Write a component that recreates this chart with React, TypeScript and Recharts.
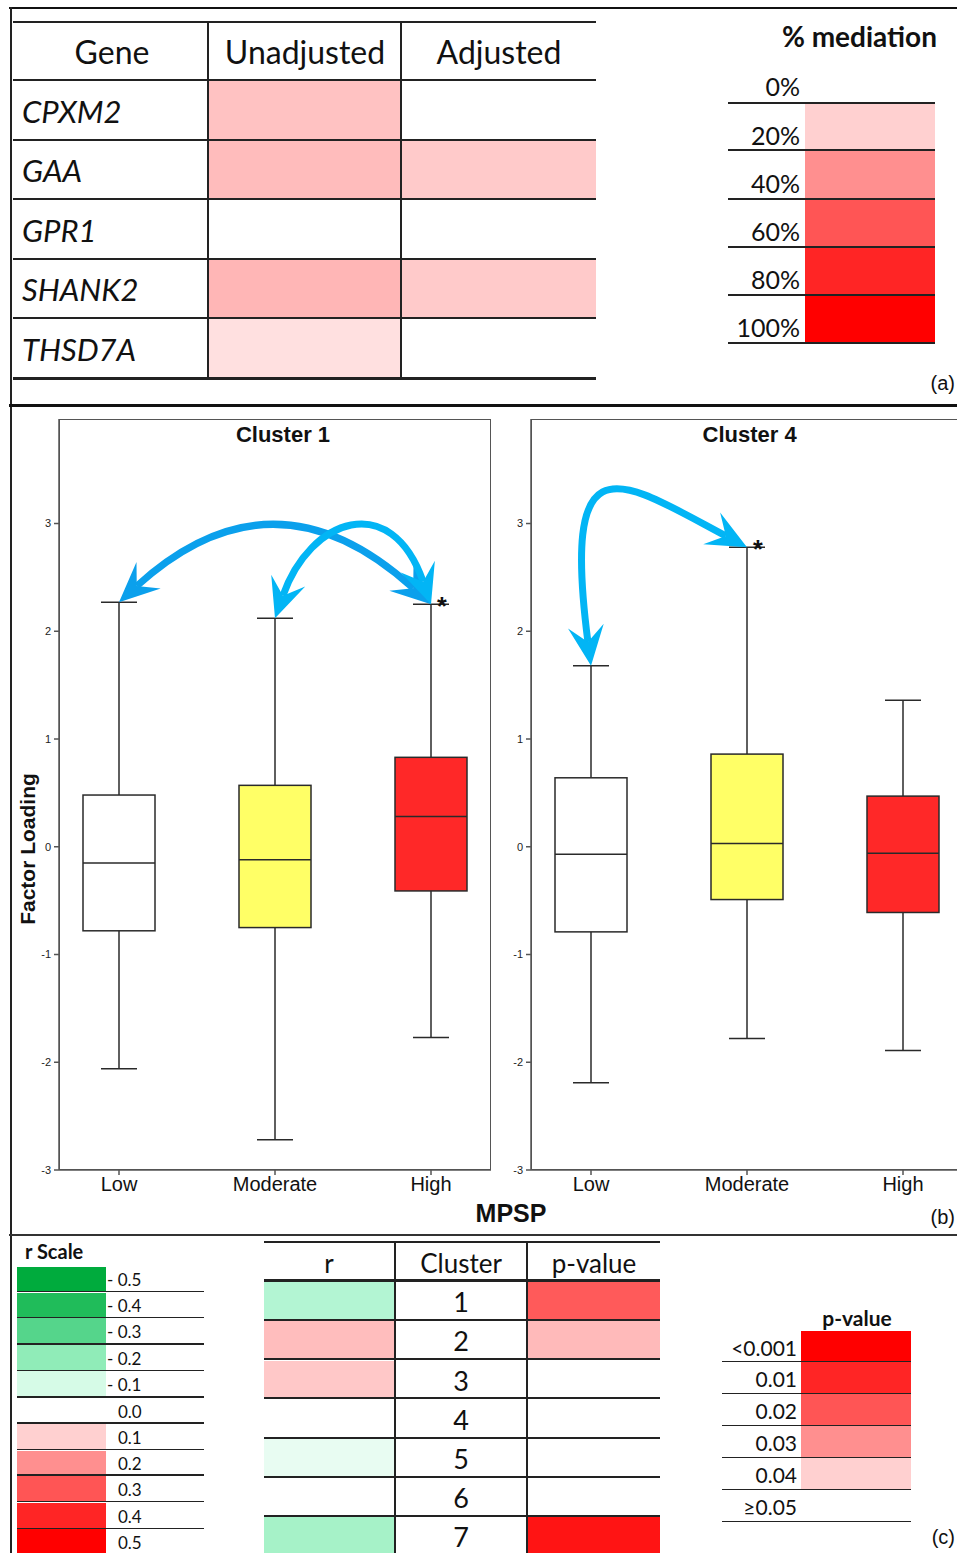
import React from 'react';
import { BarChart, Bar, XAxis, YAxis, ReferenceLine } from 'recharts';

// ---------- panel (a): mediation table ----------
const genes = ['CPXM2', 'GAA', 'GPR1', 'SHANK2', 'THSD7A'];
const unadjustedColors = ['#FFC2C2', '#FFBCBC', '#FFFFFF', '#FFB6B6', '#FFE0E0'];
const adjustedColors = ['#FFFFFF', '#FFCACA', '#FFFFFF', '#FFCACA', '#FFFFFF'];
const mediationLabels = ['0%', '20%', '40%', '60%', '80%', '100%'];
const mediationColors = ['', '#FFD0D0', '#FF8F8F', '#FF5555', '#FF2525', '#FF0000'];

// ---------- panel (b): box plots ----------
const levels = ['Low', 'Moderate', 'High'];
const levelFills = ['#FFFFFF', '#FFFF66', '#FF2828'];
const yTicks = [-3, -2, -1, 0, 1, 2, 3];

const c1Min = [-2.06, -2.72, -1.77];
const c1Q1 = [-0.78, -0.75, -0.41];
const c1Median = [-0.15, -0.12, 0.28];
const c1Q3 = [0.48, 0.57, 0.83];
const c1Max = [2.27, 2.12, 2.25];
const c1Sig = [false, false, true];

const c4Min = [-2.19, -1.78, -1.89];
const c4Q1 = [-0.79, -0.49, -0.61];
const c4Median = [-0.07, 0.03, -0.06];
const c4Q3 = [0.64, 0.86, 0.47];
const c4Max = [1.68, 2.78, 1.36];
const c4Sig = [false, true, false];

// pairwise comparisons (from, to)
const c1Pairs = [['High', 'Low'], ['High', 'Moderate']];
const c4Pairs = [['Low', 'Moderate']];

// ---------- panel (c): correlation table ----------
const rScaleLabels = ['- 0.5', '- 0.4', '- 0.3', '- 0.2', '- 0.1', '0.0', '0.1', '0.2', '0.3', '0.4', '0.5'];
const rScaleColors = ['#00AB3D', '#20BC5A', '#55D58B', '#90ECB8', '#D6FBE7', '', '#FFD0D0', '#FF8F8F', '#FF5555', '#FF2525', '#FF0000'];
const clusters = ['1', '2', '3', '4', '5', '6', '7'];
const clusterRColors = ['#B3F5D3', '#FFBDBD', '#FFC8C8', '#FFFFFF', '#E8FCF2', '#FFFFFF', '#A6F2C8'];
const clusterPColors = ['#FF5A5A', '#FFBABA', '#FFFFFF', '#FFFFFF', '#FFFFFF', '#FFFFFF', '#FF1414'];
const pLabels = ['<0.001', '0.01', '0.02', '0.03', '0.04', '\u22650.05'];
const pColors = ['#FF0000', '#FF2525', '#FF5555', '#FF8F8F', '#FFD0D0', ''];

const CAL = 'Lato, "Open Sans", sans-serif';
const ARIAL = '"Liberation Sans", Arial, sans-serif';

type BoxRow = { level: string; min: number; q1: number; median: number; q3: number; max: number; sig: boolean; fill: string };

const makeRows = (mins: number[], q1s: number[], meds: number[], q3s: number[], maxs: number[], sigs: boolean[]): BoxRow[] =>
  levels.map((level, i) => ({ level, min: mins[i], q1: q1s[i], median: meds[i], q3: q3s[i], max: maxs[i], sig: sigs[i], fill: levelFills[i] }));

const cluster1 = makeRows(c1Min, c1Q1, c1Median, c1Q3, c1Max, c1Sig);
const cluster4 = makeRows(c4Min, c4Q1, c4Median, c4Q3, c4Max, c4Sig);

// small layout helpers
const Txt = ({ x, y, size, children, anchor = 'start', weight = 400, italic = false, family = CAL, color = '#111' }: any) => {
  const tx = anchor === 'middle' ? '-50%' : anchor === 'end' ? '-100%' : '0';
  return (
    <div style={{ position: 'absolute', left: x, top: y - size / 2, fontSize: size, lineHeight: `${size}px`, fontFamily: family, fontWeight: weight, fontStyle: italic ? 'italic' : 'normal', color, whiteSpace: 'nowrap', transform: `translateX(${tx})` }}>
      {children}
    </div>
  );
};
const HLine = ({ x1, x2, y, t = 2, color = '#222' }: any) => (
  <div style={{ position: 'absolute', left: x1, top: y - t / 2, width: x2 - x1, height: t, background: color }} />
);
const VLine = ({ x, y1, y2, t = 2, color = '#222' }: any) => (
  <div style={{ position: 'absolute', left: x - t / 2, top: y1, width: t, height: y2 - y1, background: color }} />
);
const Cell = ({ x, y, w, h, fill }: any) =>
  fill && fill !== '#FFFFFF' ? <div style={{ position: 'absolute', left: x, top: y, width: w, height: h, background: fill }} /> : null;

// box + whiskers drawn from the [min, max] range bar
const BoxShape = (props: any) => {
  const { x, y, width, height, payload } = props;
  if (!payload || typeof y !== 'number') return null;
  const top = Math.min(y, y + height);
  const h = Math.abs(height);
  const { min, q1, median, q3, max, fill, sig } = payload as BoxRow;
  const k = h / (max - min);
  const py = (v: number) => top + (max - v) * k;
  const cx = x + width / 2;
  const cap = width / 4;
  const s = '#2a2a2a';
  return (
    <g>
      <line x1={cx} x2={cx} y1={py(max)} y2={py(q3)} stroke={s} strokeWidth={1.5} />
      <line x1={cx} x2={cx} y1={py(q1)} y2={py(min)} stroke={s} strokeWidth={1.5} />
      <line x1={cx - cap} x2={cx + cap} y1={py(max)} y2={py(max)} stroke={s} strokeWidth={1.5} />
      <line x1={cx - cap} x2={cx + cap} y1={py(min)} y2={py(min)} stroke={s} strokeWidth={1.5} />
      <rect x={x} y={py(q3)} width={width} height={py(q1) - py(q3)} fill={fill} stroke={s} strokeWidth={1.5} />
      <line x1={x} x2={x + width} y1={py(median)} y2={py(median)} stroke={s} strokeWidth={1.5} />
      {sig && (
        <text x={cx + cap * 0.6} y={py(max) + 11} textAnchor="middle" fontSize={25} fontWeight={700} fontFamily={ARIAL} fill="#111">*</text>
      )}
    </g>
  );
};

// double-headed curved arrow between two whisker tops
const CurvedArrow = (props: any) => {
  const { x1, y1, x2, y2, bend, color } = props;
  if ([x1, y1, x2, y2].some((v) => typeof v !== 'number' || isNaN(v))) return null;
  const a = { x: x1 + bend[0], y: y1 + bend[1] };
  const b = { x: x2 + bend[2], y: y2 + bend[3] };
  const head = (tx: number, ty: number, fx: number, fy: number) => {
    const dx = tx - fx;
    const dy = ty - fy;
    const len = Math.hypot(dx, dy) || 1;
    const ux = dx / len;
    const uy = dy / len;
    const px = -uy;
    const pyy = ux;
    const L = 40, Wd = 18, N = 24;
    const bx = tx - ux * L;
    const by = ty - uy * L;
    return {
      pts: `${tx},${ty} ${bx + px * Wd},${by + pyy * Wd} ${tx - ux * N},${ty - uy * N} ${bx - px * Wd},${by - pyy * Wd}`,
      nx: tx - ux * N,
      ny: ty - uy * N,
    };
  };
  const h0 = head(x1, y1, a.x, a.y);
  const h1 = head(x2, y2, b.x, b.y);
  return (
    <g>
      <path d={`M${h0.nx},${h0.ny} C${a.x},${a.y} ${b.x},${b.y} ${h1.nx},${h1.ny}`} fill="none" stroke={color} strokeWidth={7} />
      <polygon points={h0.pts} fill={color} />
      <polygon points={h1.pts} fill={color} />
    </g>
  );
};

// curve control offsets (px) for each comparison arrow
const arrowBends: Record<string, number[]> = {
  'c1-High-Low': [-110, -100, 110, -100],
  'c1-High-Moderate': [-40, -115, 35, -100],
  'c4-Low-Moderate': [-30, -232, -126, -67],
};
const arrowColors: Record<string, string> = {
  'c1-High-Low': '#0BA0EC',
  'c1-High-Moderate': '#02B5F5',
  'c4-Low-Moderate': '#02B5F5',
};

const axisStroke = { stroke: '#555', strokeWidth: 1.5 };

const BoxPanel = ({ id, rows, pairs, left, title }: { id: string; rows: BoxRow[]; pairs: string[][]; left: number; title: string }) => {
  const maxOf = (lv: string) => rows.find((r) => r.level === lv)!.max;
  return (
    <div style={{ position: 'absolute', left, top: 400, width: 491, height: 810 }}>
      {/* plot frame */}
      <div style={{ position: 'absolute', left: 59, top: 19, width: 432, height: 751, border: '1.5px solid #555', boxSizing: 'border-box' }} />
      <div style={{ position: 'absolute', left: 0, top: 0 }}>
        <BarChart width={491} height={810} data={rows} margin={{ top: 19, right: 0, bottom: 0, left: 0 }}>
          <XAxis dataKey="level" interval={0} padding={{ left: -18, right: -18 }} height={40} tickSize={5} tickMargin={2}
            tick={{ fontSize: 20, fill: '#111', fontFamily: ARIAL }} axisLine={axisStroke} tickLine={axisStroke} />
          <YAxis type="number" domain={[-3, 3.97]} ticks={yTicks} interval={0} width={59} tickSize={5} tickMargin={3}
            tick={{ fontSize: 11, fill: '#222', fontFamily: ARIAL }} axisLine={axisStroke} tickLine={axisStroke} allowDataOverflow />
          <Bar dataKey={(d: BoxRow) => [d.min, d.max]} barSize={72} shape={<BoxShape />} isAnimationActive={false} />
          {pairs.map(([from, to]) => {
            const key = `${id}-${from}-${to}`;
            return (
              <ReferenceLine key={key} ifOverflow="visible"
                segment={[{ x: from, y: maxOf(from) }, { x: to, y: maxOf(to) }]}
                shape={(p: any) => <CurvedArrow {...p} bend={arrowBends[key]} color={arrowColors[key]} />} />
            );
          })}
        </BarChart>
      </div>
      <Txt x={left === 0 ? 283 : 278} y={35} size={22} weight={700} family={ARIAL} anchor="middle">{title}</Txt>
    </div>
  );
};

export default function App() {
  const rowTopA = (i: number) => 80 + i * 59.6;
  const medLines = [102.7, 150.3, 198.7, 246.7, 294.7, 343.3];
  const medCenters = [86, 135, 183, 231, 279, 327];
  const rTops = [1265.7, 1291.7, 1317.3, 1344, 1370.3, 1397, 1423, 1449.7, 1475, 1501.7, 1528.3, 1554];
  const cRowTop = (i: number) => 1280.7 + i * 39.2;
  const pLines = [1330.7, 1361.7, 1393.7, 1425.7, 1457.7, 1489.7, 1521.3];

  return (
    <div style={{ position: 'absolute', left: 0, top: 0, width: 957, height: 1553, overflow: 'hidden', background: '#fff' }}>
      {/* panel frames */}
      <HLine x1={9} x2={957} y={8} t={2.5} color="#111" />
      <VLine x={10.5} y1={7} y2={1553} t={2} color="#222" />
      <HLine x1={9} x2={957} y={405} t={3} color="#111" />
      <HLine x1={9} x2={957} y={1235} t={2.5} color="#333" />

      {/* (a) table */}
      <HLine x1={13} x2={596} y={22} t={2.5} />
      <HLine x1={13} x2={596} y={80} t={2} />
      {genes.map((g, i) => (
        <React.Fragment key={g}>
          <Cell x={209} y={rowTopA(i) + 1} w={191} h={57.6} fill={unadjustedColors[i]} />
          <Cell x={402} y={rowTopA(i) + 1} w={194} h={57.6} fill={adjustedColors[i]} />
          <Txt x={22} y={rowTopA(i) + 31} size={31} italic>{g}</Txt>
          <HLine x1={13} x2={596} y={rowTopA(i + 1)} t={i === genes.length - 1 ? 3 : 2} />
        </React.Fragment>
      ))}
      <VLine x={208} y1={21} y2={379} t={2} />
      <VLine x={401} y1={21} y2={379} t={2} />
      <Txt x={112} y={52} size={32} anchor="middle">Gene</Txt>
      <Txt x={305} y={52} size={32} anchor="middle">Unadjusted</Txt>
      <Txt x={499} y={52} size={32} anchor="middle">Adjusted</Txt>

      {/* (a) legend */}
      <Txt x={937} y={36} size={28} weight={700} anchor="end">% mediation</Txt>
      {mediationLabels.map((m, i) => (
        <React.Fragment key={m}>
          {i > 0 && <Cell x={805} y={medLines[i - 1] + 1} w={130} h={medLines[i] - medLines[i - 1] - 1} fill={mediationColors[i]} />}
          <Txt x={800} y={medCenters[i]} size={25} anchor="end">{m}</Txt>
          <HLine x1={728} x2={935} y={medLines[i]} t={2} />
        </React.Fragment>
      ))}
      <Txt x={955} y={383} size={20} family={ARIAL} anchor="end">(a)</Txt>

      {/* (b) box plots */}
      <BoxPanel id="c1" rows={cluster1} pairs={c1Pairs} left={0} title="Cluster 1" />
      <BoxPanel id="c4" rows={cluster4} pairs={c4Pairs} left={471.7} title="Cluster 4" />
      <div style={{ position: 'absolute', left: 28, top: 849, transform: 'translate(-50%, -50%) rotate(-90deg)', fontFamily: ARIAL, fontWeight: 700, fontSize: 21, whiteSpace: 'nowrap', color: '#111' }}>
        Factor Loading
      </div>
      <Txt x={511} y={1213} size={25} weight={700} family={ARIAL} anchor="middle">MPSP</Txt>
      <Txt x={955} y={1217} size={20} family={ARIAL} anchor="end">(b)</Txt>

      {/* (c) r scale */}
      <Txt x={25} y={1251} size={20} weight={700}>r Scale</Txt>
      {rScaleLabels.map((lab, i) => (
        <React.Fragment key={lab + i}>
          <Cell x={17} y={rTops[i] + 1} w={89} h={rTops[i + 1] - rTops[i] - 1} fill={rScaleColors[i]} />
          <Txt x={lab.startsWith('-') ? 107 : 118} y={(rTops[i] + rTops[i + 1]) / 2 + 1} size={17}>{lab}</Txt>
          {i < rScaleLabels.length - 1 && <HLine x1={17} x2={204} y={rTops[i + 1]} t={1.5} />}
        </React.Fragment>
      ))}

      {/* (c) cluster table */}
      <HLine x1={264} x2={660} y={1242.3} t={2} />
      <HLine x1={264} x2={660} y={1280.7} t={2.5} />
      {clusters.map((c, i) => (
        <React.Fragment key={c}>
          <Cell x={264} y={cRowTop(i) + 1.5} w={130} h={37} fill={clusterRColors[i]} />
          <Cell x={528} y={cRowTop(i) + 1.5} w={132} h={37} fill={clusterPColors[i]} />
          <Txt x={461} y={cRowTop(i) + 21} size={27} anchor="middle">{c}</Txt>
          {i < clusters.length - 1 && <HLine x1={264} x2={660} y={cRowTop(i + 1)} t={2} />}
        </React.Fragment>
      ))}
      <VLine x={395} y1={1242} y2={1553} t={2} />
      <VLine x={527} y1={1242} y2={1553} t={2} />
      <Txt x={329} y={1263} size={26} anchor="middle">r</Txt>
      <Txt x={461} y={1263} size={26} anchor="middle">Cluster</Txt>
      <Txt x={594} y={1263} size={26} anchor="middle">p-value</Txt>

      {/* (c) p-value legend */}
      <Txt x={857} y={1317} size={21} weight={700} anchor="middle">p-value</Txt>
      {pLabels.map((p, i) => (
        <React.Fragment key={p}>
          <Cell x={801} y={pLines[i]} w={110} h={pLines[i + 1] - pLines[i] - 1} fill={pColors[i]} />
          <Txt x={797} y={(pLines[i] + pLines[i + 1]) / 2 + 1} size={21} anchor="end">{p}</Txt>
          <HLine x1={722} x2={911} y={pLines[i + 1]} t={1.5} />
        </React.Fragment>
      ))}
      <Txt x={955} y={1537} size={20} family={ARIAL} anchor="end">(c)</Txt>
    </div>
  );
}
